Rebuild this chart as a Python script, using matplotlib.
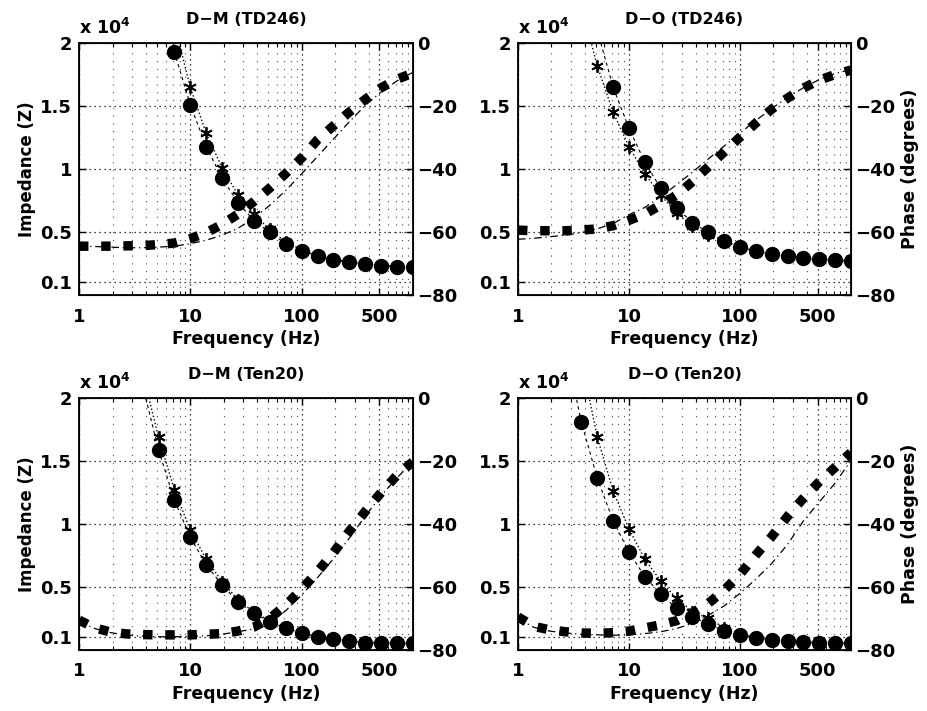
import numpy as np
import matplotlib
matplotlib.use("Agg")
import matplotlib.pyplot as plt
from matplotlib.ticker import FixedLocator, FixedFormatter, LogLocator, NullFormatter

plt.rcParams['font.family'] = ['DejaVu Sans']
plt.rcParams['font.weight'] = 'bold'
plt.rcParams['axes.labelweight'] = 'bold'
plt.rcParams['axes.titleweight'] = 'bold'
plt.rcParams['font.size'] = 13
plt.rcParams['mathtext.default'] = 'bf'

nan = np.nan

# frequencies (Hz), 7 points per decade
freq = [1, 1.39, 1.93, 2.68, 3.73, 5.18, 7.2, 10, 13.9, 19.3, 26.8, 37.3, 51.8,
        72, 100, 139, 193, 268, 373, 518, 720, 1000]

titles = ['D\u2212M (TD246)', 'D\u2212O (TD246)', 'D\u2212M (Ten20)', 'D\u2212O (Ten20)']

# impedance, units of 10^4 ohm (circles = measured, asterisks = fitted)
z_meas_dm_td = [nan, nan, nan, nan, nan, 2.6, 1.926, 1.508, 1.177, 0.926, 0.733, 0.590, 0.497,
                0.405, 0.352, 0.310, 0.278, 0.260, 0.246, 0.233, 0.225, 0.220]
z_fit_dm_td = [nan, nan, nan, nan, nan, nan, 2.15, 1.648, 1.283, 1.010, 0.794, 0.640, 0.52,
               0.42, 0.36, 0.315, 0.283, 0.263, 0.248, 0.235, 0.226, 0.221]
z_meas_do_td = [nan, nan, nan, nan, nan, 2.1, 1.648, 1.323, 1.053, 0.847, 0.693, 0.574, 0.497,
                0.431, 0.383, 0.349, 0.325, 0.310, 0.294, 0.283, 0.278, 0.270]
z_fit_do_td = [nan, nan, nan, nan, 2.3, 1.817, 1.45, 1.177, 0.96, 0.794, 0.648, 0.55, 0.48,
               0.425, 0.38, 0.347, 0.323, 0.308, 0.293, 0.282, 0.277, 0.270]
z_meas_dm_t20 = [nan, nan, nan, nan, 2.1, 1.587, 1.19, 0.894, 0.675, 0.516, 0.383, 0.291, 0.225,
                 0.172, 0.132, 0.106, 0.085, 0.071, 0.058, 0.053, 0.053, 0.053]
z_fit_dm_t20 = [nan, nan, nan, nan, 2.2, 1.688, 1.27, 0.952, 0.72, 0.542, 0.40, 0.30, 0.232,
                0.176, 0.135, 0.108, 0.087, 0.072, 0.059, 0.054, 0.053, 0.053]
z_meas_do_t20 = [nan, nan, nan, 2.4, 1.807, 1.362, 1.026, 0.775, 0.582, 0.442, 0.331, 0.265, 0.206,
                 0.151, 0.119, 0.098, 0.079, 0.071, 0.061, 0.058, 0.053, 0.053]
z_fit_do_t20 = [nan, nan, nan, nan, 2.3, 1.688, 1.262, 0.96, 0.72, 0.548, 0.41, 0.304, 0.251,
                0.177, 0.13, 0.10, 0.082, 0.072, 0.062, 0.058, 0.054, 0.053]

# phase (degrees)
ph_meas_dm_td = [-64.5, -64.5, -64.5, -64.4, -64.3, -64.0, -63.5, -62.1, -60.2, -57.6, -54.3,
                 -50.3, -46.0, -41.4, -36.5, -30.7, -26.3, -21.9, -17.9, -14.2, -11.5, -9.5]
ph_fit_dm_td = [-64.5, -64.6, -64.8, -65.0, -65.0, -64.8, -64.5, -63.7, -62.6, -61.0, -58.8,
                -55.6, -51.5, -46.8, -41.5, -36.0, -30.5, -25.0, -19.8, -15.5, -12.0, -9.3]
ph_meas_do_td = [-59.4, -59.6, -59.6, -59.6, -59.4, -59.0, -58.0, -56.3, -54.3, -51.4, -48.3,
                 -44.0, -39.3, -34.6, -29.9, -25.4, -21.0, -17.5, -14.3, -11.8, -10.0, -8.6]
ph_fit_do_td = [-62.3, -62.0, -61.5, -61.0, -60.2, -59.0, -57.3, -54.5, -52.2, -48.8, -45.0,
                -41.0, -36.8, -32.7, -28.6, -24.6, -20.8, -17.3, -14.2, -11.6, -9.7, -8.4]
ph_meas_dm_t20 = [-70.5, -73.0, -74.3, -74.9, -75.1, -75.2, -75.2, -75.2, -75.0, -74.8, -74.0,
                  -72.7, -70.0, -65.7, -60.7, -55.1, -49.1, -42.3, -36.0, -30.0, -24.5, -20.2]
ph_fit_dm_t20 = [-71.0, -73.2, -74.5, -75.3, -75.6, -75.8, -75.8, -75.7, -75.5, -75.0, -74.2,
                 -73.3, -71.5, -67.5, -62.5, -57.0, -51.0, -44.5, -37.5, -31.0, -25.3, -20.2]
ph_meas_do_t20 = [-69.5, -72.5, -73.6, -74.2, -74.6, -74.7, -74.5, -74.0, -73.0, -72.0, -70.7,
                  -68.2, -65.2, -61.0, -56.0, -49.8, -44.0, -37.6, -31.8, -26.6, -22.0, -17.3]
ph_fit_do_t20 = [-70.0, -72.8, -74.0, -74.6, -75.0, -75.2, -75.3, -75.2, -74.8, -74.2, -73.2,
                 -71.5, -69.0, -66.0, -62.0, -57.5, -52.5, -46.5, -39.0, -33.0, -27.0, -19.8]

z_meas = [z_meas_dm_td, z_meas_do_td, z_meas_dm_t20, z_meas_do_t20]
z_fit = [z_fit_dm_td, z_fit_do_td, z_fit_dm_t20, z_fit_do_t20]
ph_meas = [ph_meas_dm_td, ph_meas_do_td, ph_meas_dm_t20, ph_meas_do_t20]
ph_fit = [ph_fit_dm_td, ph_fit_do_td, ph_fit_dm_t20, ph_fit_do_t20]

x_ticks = [1, 10, 100, 500]
z_ticks = [0.1, 0.5, 1, 1.5, 2]
ph_ticks = [-80, -60, -40, -20, 0]

W, H = 927, 711
fig = plt.figure(figsize=(W / 100, H / 100), dpi=100)

# axes boxes in pixels: left, top, right, bottom
boxes = [(79, 43, 413, 295), (518, 43, 851, 295), (79, 398, 413, 650), (518, 398, 851, 650)]

for i, (l, t, r, b) in enumerate(boxes):
    ax = fig.add_axes([l / W, 1 - b / H, (r - l) / W, (b - t) / H])
    ax.set_xscale('log')
    ax.set_xlim(1, 1000)
    ax.set_ylim(0, 2)

    ax.plot(freq, z_fit[i], color='k', ls=':', lw=1.0, marker=(6, 2, 0), ms=9,
            markeredgewidth=1.3, zorder=3)
    ax.plot(freq, z_meas[i], color='k', ls=(0, (3, 3)), lw=0.8, marker='o', ms=10,
            zorder=4)

    ax.xaxis.set_major_locator(FixedLocator(x_ticks))
    ax.xaxis.set_major_formatter(FixedFormatter([str(v) for v in x_ticks]))
    ax.xaxis.set_minor_locator(LogLocator(base=10, subs=np.arange(2, 10), numticks=20))
    ax.xaxis.set_minor_formatter(NullFormatter())
    ax.yaxis.set_major_locator(FixedLocator(z_ticks))
    ax.yaxis.set_major_formatter(FixedFormatter(['0.1', '0.5', '1', '1.5', '2']))
    ax.tick_params(which='both', direction='in', top=True, right=False)
    ax.tick_params(which='major', length=5, width=1)
    ax.tick_params(which='minor', length=3, width=0.8)
    ax.tick_params(axis='x', which='major', pad=9)
    ax.tick_params(axis='y', which='major', pad=5)
    ax.grid(True, which='major', ls=(0, (1, 3)), color='k', lw=0.9)
    ax.grid(True, which='minor', axis='x', ls=(0, (1, 6)), color='0.3', lw=0.8)
    for s in ax.spines.values():
        s.set_linewidth(1.3)

    ax.set_xlabel('Frequency (Hz)', fontsize=12.5, labelpad=3)
    if i % 2 == 0:
        ax.set_ylabel('Impedance (Z)', fontsize=12, labelpad=3)
    ax.text(0, 1.036, 'x 10$^{4}$', transform=ax.transAxes, fontsize=12.5,
            ha='left', va='baseline')
    ax.set_title(titles[i], fontsize=11.5, pad=14)

    ax2 = ax.twinx()
    ax2.set_ylim(-80, 0)
    ax2.plot(freq, ph_fit[i], color='k', ls=(0, (6, 3, 1, 3)), lw=0.9, zorder=2)
    ax2.plot(freq, ph_meas[i], color='k', ls=(0, (1, 1.35)), lw=6.8,
             solid_capstyle='butt', dash_capstyle='butt', zorder=3)
    ax2.yaxis.set_major_locator(FixedLocator(ph_ticks))
    ax2.yaxis.set_major_formatter(FixedFormatter(['\u221280', '\u221260', '\u221240', '\u221220', '0']))
    ax2.tick_params(direction='in', length=5, width=1, pad=3)
    if i % 2 == 1:
        ax2.set_ylabel('Phase (degrees)', fontsize=12.5, labelpad=4)

fig.savefig('out.png', dpi=100)
